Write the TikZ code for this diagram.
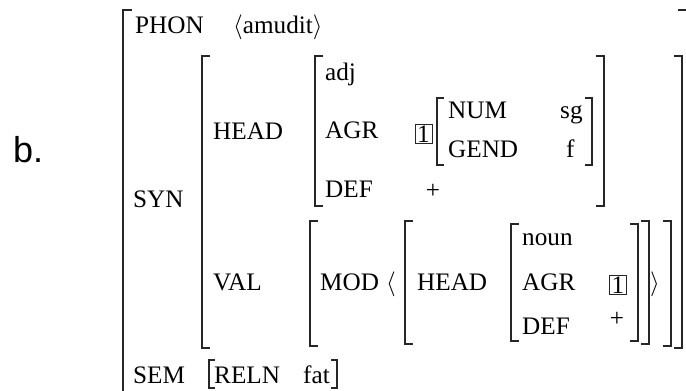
\documentclass[tikz,border=0pt]{standalone}
\usepackage{fontspec}
\setmainfont{Liberation Serif}
\newfontfamily\labfont{Liberation Sans}
\newcommand\avmbrk[5]{% xl xr yt yb tick
  \draw[br] (#1+#5,#3) -- (#1,#3) -- (#1,#4) -- (#1+#5,#4);
  \draw[br] (#2-#5,#3) -- (#2,#3) -- (#2,#4) -- (#2-#5,#4);}
\begin{document}
\begin{tikzpicture}[x=1pt,y=-1pt,
  br/.style={line width=1.1pt,draw=black!85},
  t/.style={anchor=base west,inner sep=0pt,font=\fontsize{25.2}{28}\selectfont},
  tc/.style={anchor=center,inner sep=0pt,font=\fontsize{25.2}{28}\selectfont},
  tagbox/.style={draw=black!85,line width=1pt,inner sep=0pt,minimum width=17pt,minimum height=19pt,font=\fontsize{25.2}{28}\selectfont},
  lab/.style={anchor=base west,inner sep=0pt,font=\labfont\fontsize{36}{40}\selectfont}]
\useasboundingbox (0,0) rectangle (686,391);
% labels
\node[lab] (b) at (13,162) {b.};
\node[t] (phon) at (135,33) {PHON};
\node[t] (phonv) at (233,33) {$\langle$amudit$\rangle$};
\node[t] (syn) at (133,207) {SYN};
\node[t] (head1) at (213,139) {HEAD};
\node[t] (adj) at (325,80) {adj};
\node[t] (agr1) at (325,138) {AGR};
\node[t] (def1) at (325,197) {DEF};
\node[tc] (plus1) at (433,191) {+};
\node[tagbox] (tag1) at (423.5,134) {1};
\node[t] (num) at (448,118) {NUM};
\node[t] (gend) at (448,157) {GEND};
\node[t] (sg) at (560,118) {sg};
\node[t] (f) at (566,157) {f};
\node[t] (val) at (213,290) {VAL};
\node[t] (mod) at (320,290) {MOD};
\node[t] (la) at (386,290) {$\langle$};
\node[t] (head2) at (417,290) {HEAD};
\node[t] (noun) at (522,245) {noun};
\node[t] (agr2) at (522,290) {AGR};
\node[t] (def2) at (522,334) {DEF};
\node[tagbox] (tag2) at (618,285) {1};
\node[tc] (plus2) at (617,319) {+};
\node[t] (ra) at (650,290) {$\rangle$};
\node[t] (sem) at (133,383) {SEM};
\node[t] (reln) at (214,383) {RELN};
\node[t] (fat) at (303,383) {fat};
% brackets
\avmbrk{123}{687}{10}{400}{9}
\avmbrk{202}{682}{56}{348}{8}
\avmbrk{315}{604}{56}{206}{8}
\avmbrk{437}{592}{98}{165}{7}
\avmbrk{310}{671}{221}{346}{8}
\avmbrk{405}{649}{221}{344}{8}
\avmbrk{511}{638}{224}{341}{8}
\avmbrk{209}{337}{360}{388}{6}
\end{tikzpicture}
\end{document}
